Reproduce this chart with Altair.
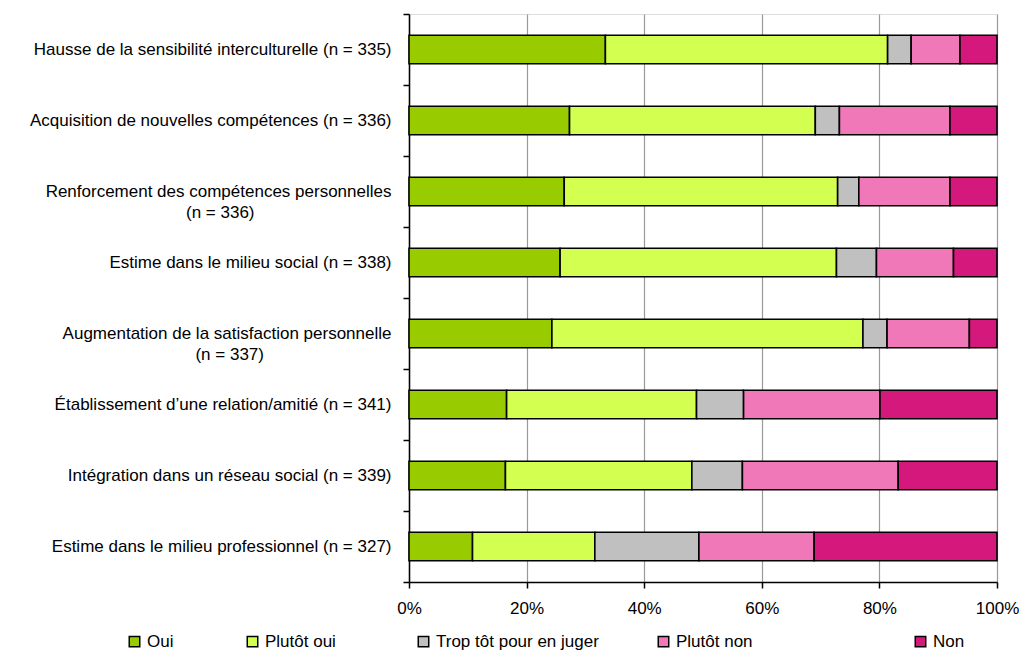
import altair as alt
import pandas as pd

categories = [
    "Hausse de la sensibilité interculturelle (n = 335)",
    "Acquisition de nouvelles compétences (n = 336)",
    "Renforcement des compétences personnelles|(n = 336)",
    "Estime dans le milieu social (n = 338)",
    "Augmentation de la satisfaction personnelle|(n = 337)",
    "Établissement d’une relation/amitié (n = 341)",
    "Intégration dans un réseau social (n = 339)",
    "Estime dans le milieu professionnel (n = 327)",
]
series = ["Oui", "Plutôt oui", "Trop tôt pour en juger", "Plutôt non", "Non"]
colors = ["#99CC00", "#D2FF50", "#C0C0C0", "#F078B9", "#D4187C"]

oui = [33.4, 27.3, 26.4, 25.7, 24.3, 16.6, 16.4, 10.8]
plutot_oui = [48.0, 41.8, 46.5, 47.0, 52.9, 32.3, 31.7, 20.8]
trop_tot = [4.0, 4.1, 3.6, 6.8, 4.1, 8.0, 8.6, 17.7]
plutot_non = [8.3, 18.8, 15.5, 13.1, 14.0, 23.2, 26.5, 19.6]
non = [6.3, 8.0, 8.0, 7.4, 4.7, 19.9, 16.8, 31.1]

rows = []
for s_i, (s, vals) in enumerate(zip(series, [oui, plutot_oui, trop_tot, plutot_non, non])):
    for c, v in zip(categories, vals):
        rows.append({"cat": c, "serie": s, "val": v, "ord": s_i})
df = pd.DataFrame(rows)

FONT = "Liberation Sans"
ZW = "\u200b"
NB = "\u00a0"

# second line of the two-line labels is visually centred under the first line
nb1 = NB * 29 + ZW
nb2 = NB * 27 + ZW
label_expr = (
    "indexof(datum.label, 'Renforcement') >= 0 ? "
    "[split(datum.label, '|')[0], split(datum.label, '|')[1] + '" + nb1 + "'] : "
    "indexof(datum.label, '|') >= 0 ? "
    "[split(datum.label, '|')[0], split(datum.label, '|')[1] + '" + nb2 + "'] : datum.label"
)
# invisible trailing spacing so the legend entries sit like the original's
legend_expr = (
    "datum.label == 'Oui' ? datum.label + '" + NB * 5 + ZW + "' : "
    "datum.label == 'Plutôt oui' ? datum.label + '" + NB * 7 + ZW + "' : "
    "datum.label == 'Trop tôt pour en juger' ? datum.label + '" + NB * 2 + ZW + "' : "
    "datum.label == 'Plutôt non' ? datum.label + '" + NB * 24 + ZW + "' : datum.label"
)

chart = alt.Chart(df).mark_bar(
    height={"band": 0.4}, stroke="black", strokeWidth=1.6
).encode(
    x=alt.X("val:Q", stack="normalize",
            scale=alt.Scale(domain=[0, 1], nice=False),
            axis=alt.Axis(title=None, format=".0%", values=[0, 0.2, 0.4, 0.6, 0.8, 1.0],
                          grid=True, gridColor="#999999", gridWidth=1.2,
                          domainColor="black", domainWidth=1.5,
                          tickColor="black", tickSize=6, tickWidth=1.5,
                          labelFont=FONT, labelFontSize=17, labelColor="black",
                          labelPadding=12, labelFlush=False)),
    y=alt.Y("cat:N", sort=categories,
            scale=alt.Scale(paddingInner=0, paddingOuter=0),
            axis=alt.Axis(title=None, grid=False, tickBand="extent",
                          domainColor="black", domainWidth=1.5,
                          tickColor="black", tickSize=6, tickWidth=1.5,
                          labelFont=FONT, labelFontSize=17, labelColor="black",
                          labelLimit=500, labelLineHeight=21,
                          labelExpr=label_expr,
                          labelPadding=12)),
    color=alt.Color("serie:N", sort=series,
                    scale=alt.Scale(domain=series, range=colors),
                    legend=alt.Legend(title=None, orient="none", direction="horizontal",
                                      columns=5, legendX=-283, legendY=619,
                                      symbolType="square", symbolSize=110,
                                      symbolStrokeColor="black", symbolStrokeWidth=1.5,
                                      labelFont=FONT, labelFontSize=17, labelColor="black",
                                      labelExpr=legend_expr,
                                      labelLimit=400, columnPadding=46, symbolOffset=0)),
    order=alt.Order("ord:Q", sort="ascending"),
).properties(
    width=588, height=568,
    autosize=alt.AutoSizeParams(type="none"),
    padding={"left": 401, "top": 6, "right": 22, "bottom": 71},
).configure_view(stroke=None).configure(background="white")

chart.save("out.html", embed_options={"renderer": "svg", "actions": False})
